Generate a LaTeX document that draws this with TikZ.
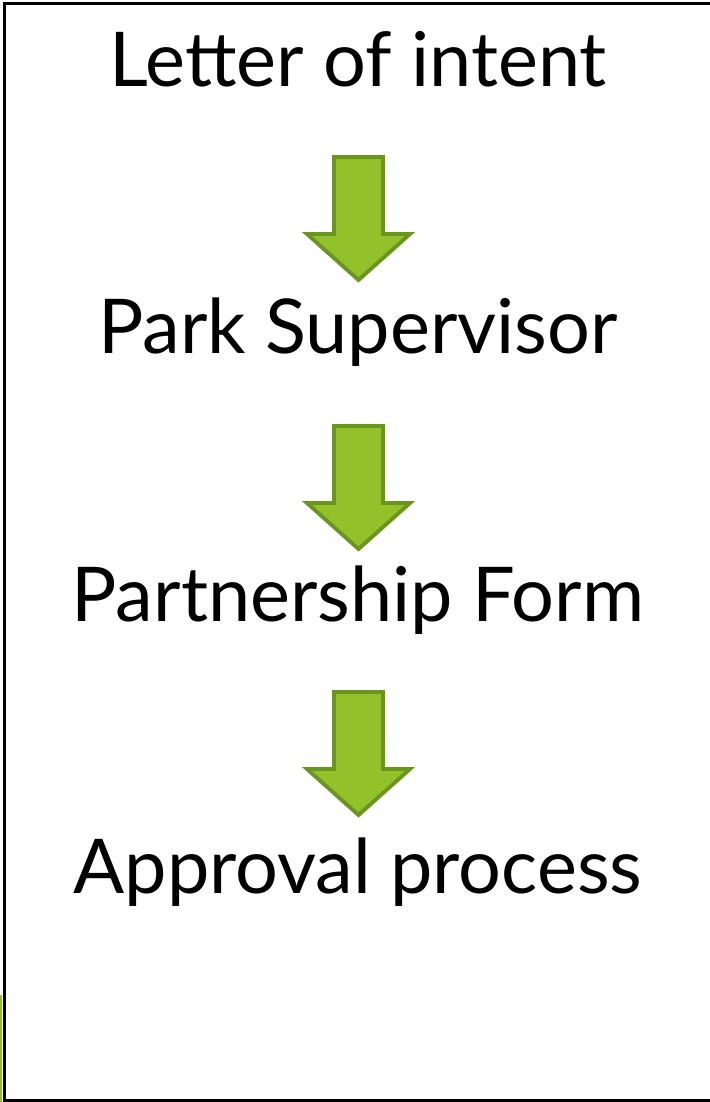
\documentclass[tikz,border=0pt]{standalone}
\usepackage{fontspec}
\setmainfont{Lato}
\definecolor{ARROWfill}{HTML}{92C12A}
\definecolor{ARROWline}{HTML}{6A961F}
\usetikzlibrary{calc}

\begin{document}
\begin{tikzpicture}[x=0.01cm, y=-0.01cm]
    \tikzset{%
        steplabel/.style={anchor=base, inner sep=0pt, font=\fontsize{21.5pt}{26pt}\selectfont},
        pics/downarrow/.style={code={%
                        \filldraw [fill=ARROWfill, draw=ARROWline, line width=1.1pt, line join=miter]
                            (-24.5, 0) -- (24.5, 0) -- (24.5, 77) -- (51.5, 77) -- (0, 123) -- (-51.5, 77) -- (-24.5, 77) -- cycle;
                    }
            }
    }

    \useasboundingbox (0, 0) rectangle (710, 1102);

    % frame
    \draw [line width=0.9pt, black] (4.5, 3.5) rectangle (716, 1100.5);
    \fill [ARROWfill] (0, 995) rectangle (2, 1102);

    % steps
    \node [steplabel] (letter) at (358, 86) {Letter of intent};
    \node [steplabel] (park) at (358, 353) {Park Supervisor};
    \node [steplabel] (form) at (358, 621) {Partnership Form};
    \node [steplabel] (approval) at (358, 893) {Approval process};

    % arrows
    \foreach \ytop in {157, 426, 692} {%
            \pic at (358.5, \ytop) {downarrow};
        };

\end{tikzpicture}
\end{document}
